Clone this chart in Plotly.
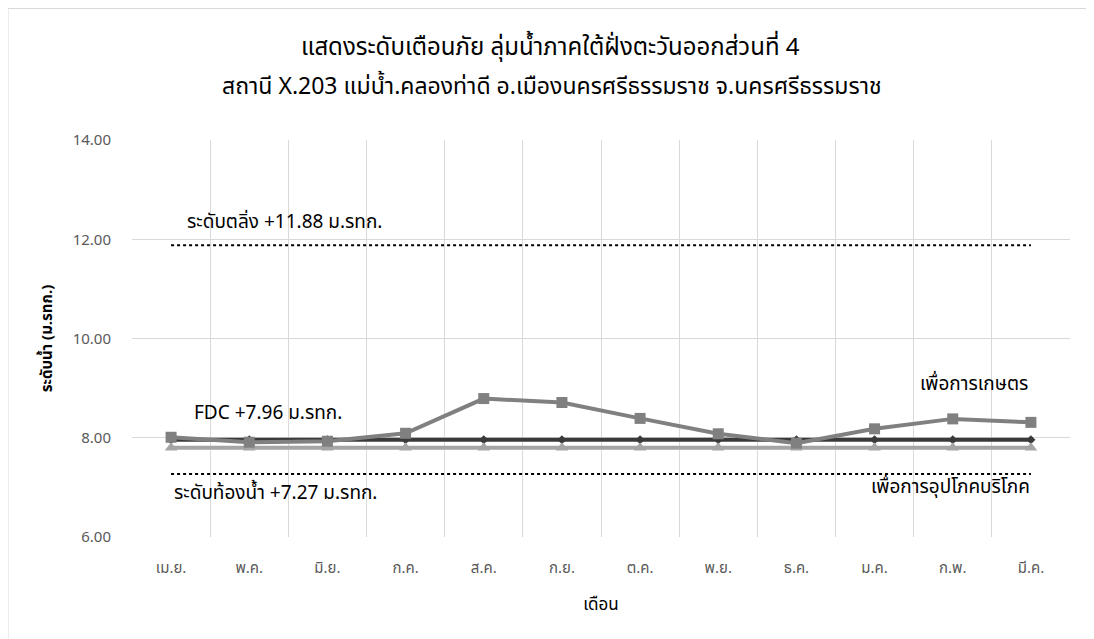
import plotly.graph_objects as go

months = ["เม.ย.", "พ.ค.", "มิ.ย.", "ก.ค.", "ส.ค.", "ก.ย.", "ต.ค.", "พ.ย.", "ธ.ค.", "ม.ค.", "ก.พ.", "มี.ค."]
fdc = [7.96] * 12
agri = [8.01, 7.91, 7.93, 8.09, 8.79, 8.71, 8.39, 8.08, 7.89, 8.18, 8.38, 8.31]
consume = [7.80] * 12
bank_level = 11.88
bed_level = 7.27

W, H = 1094, 639
# page is offset by 8px in the browser, so margins are shifted accordingly
L, R, T, B = 124, 32, 132, 110
pw, ph = W - L - R, H - T - B

x = list(range(len(months)))
FONT = "Noto Sans Thai, Tahoma, Noto Sans, DejaVu Sans, sans-serif"

fig = go.Figure()
fig.add_trace(go.Scatter(x=[0, 11], y=[bank_level, bank_level], mode="lines",
                         line=dict(color="#000000", width=2, dash="dot"), hoverinfo="skip"))
fig.add_trace(go.Scatter(x=[0, 11], y=[bed_level, bed_level], mode="lines",
                         line=dict(color="#000000", width=2, dash="dot"), hoverinfo="skip"))
fig.add_trace(go.Scatter(x=x, y=fdc, mode="lines+markers", name="FDC",
                         line=dict(color="#3a3a3a", width=4),
                         marker=dict(symbol="diamond", size=7, color="#3a3a3a")))
fig.add_trace(go.Scatter(x=x, y=consume, mode="lines+markers", name="เพื่อการอุปโภคบริโภค",
                         line=dict(color="#a5a5a5", width=4),
                         marker=dict(symbol="triangle-up", size=11, color="#a5a5a5")))
fig.add_trace(go.Scatter(x=x, y=agri, mode="lines+markers", name="เพื่อการเกษตร",
                         line=dict(color="#808080", width=4),
                         marker=dict(symbol="square", size=11, color="#808080")))

ann = dict(showarrow=False, font=dict(family=FONT, size=19, color="#000000"))
fig.add_annotation(x=0.18, y=bank_level, yshift=23, xanchor="left", text="ระดับตลิ่ง +11.88 ม.รทก.", **ann)
fig.add_annotation(x=0.27, y=fdc[0], yshift=26, xanchor="left", text="FDC +7.96 ม.รทก.", **ann)
fig.add_annotation(x=0.01, y=bed_level, yshift=-20, xanchor="left", text="ระดับท้องน้ำ +7.27 ม.รทก.", **ann)
fig.add_annotation(x=10.99, y=8.38, yshift=34, xanchor="right", text="เพื่อการเกษตร", **ann)
fig.add_annotation(x=11.02, y=consume[0], yshift=-40, xanchor="right", text="เพื่อการอุปโภคบริโภค", **ann)

# chart titles (two lines)
fig.add_annotation(xref="paper", yref="paper", x=(542 - L) / pw, y=(H - B - 40) / ph,
                   xanchor="center", yanchor="middle", showarrow=False,
                   text="แสดงระดับเตือนภัย ลุ่มน้ำภาคใต้ฝั่งตะวันออกส่วนที่ 4",
                   font=dict(family=FONT, size=24, color="#000000"))
fig.add_annotation(xref="paper", yref="paper", x=(544 - L) / pw, y=(H - B - 79) / ph,
                   xanchor="center", yanchor="middle", showarrow=False,
                   text="สถานี X.203 แม่น้ำ.คลองท่าดี อ.เมืองนครศรีธรรมราช จ.นครศรีธรรมราช",
                   font=dict(family=FONT, size=23, color="#000000"))

fig.add_shape(type="rect", xref="paper", yref="paper",
              x0=(0 - L) / pw, x1=(1081 - L) / pw, y0=(H - B - 660) / ph, y1=(H - B - 0.5) / ph,
              line=dict(color="#d9d9d9", width=1), fillcolor="rgba(0,0,0,0)", layer="below")

fig.update_layout(
    width=W, height=H,
    margin=dict(l=L, r=R, t=T, b=B),
    paper_bgcolor="#ffffff", plot_bgcolor="#ffffff",
    showlegend=False,
    font=dict(family=FONT, color="#595959"),
    xaxis=dict(range=[-0.5, 11.5], tickmode="array", tickvals=x, ticktext=months,
               showgrid=False, zeroline=False, showline=False, ticks="",
               tickfont=dict(size=15, color="#595959"), ticklabelstandoff=20,
               minor=dict(tickmode="array", tickvals=[i - 0.5 for i in range(13)],
                          showgrid=True, gridcolor="#d9d9d9", gridwidth=1, ticks=""),
               title=dict(text="เดือน", font=dict(size=17, color="#000000"), standoff=19)),
    yaxis=dict(range=[6, 14], dtick=2, tick0=6, tickformat=".2f",
               showgrid=True, gridcolor="#d9d9d9", gridwidth=1, zeroline=False,
               showline=False, ticks="", ticklabelstandoff=20,
               tickfont=dict(size=15, color="#595959"),
               title=dict(text="ระดับน้ำ (ม.รทก.)", font=dict(size=15, color="#000000", weight="bold"),
                          standoff=16)),
)

fig.write_html("out.html")
